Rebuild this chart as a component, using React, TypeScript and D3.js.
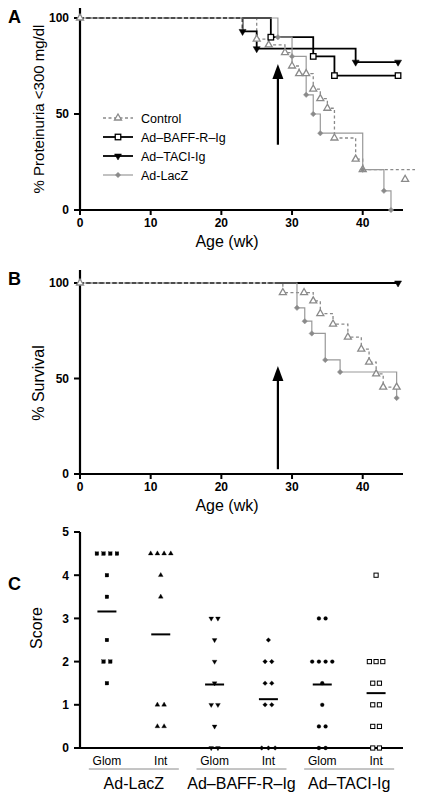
import React from 'react';
import * as d3 from 'd3';

type Pt = [number, number];

// ---------- shared ticks ----------
const weekTicks = [0, 10, 20, 30, 40];
const pctTicks = [0, 50, 100];
const scoreTicks = [0, 1, 2, 3, 4, 5];
const treatmentWeek = 28;

// ---------- Panel A: % proteinuria <300 mg/dl ----------
const ctrlA: Pt[] = [[0, 100], [25, 89], [26.7, 86], [29, 82], [30, 75], [31, 71], [32, 71], [33, 63], [34, 58], [35, 53], [36, 37.5], [39, 26.5], [40, 21], [47.4, 21]];
const ctrlAMarks: Pt[] = [[0, 100], [25, 89], [26.7, 86], [29, 82], [30, 75], [31, 71], [32, 71], [33, 63], [34, 58], [35, 53], [36, 37.5], [39, 26.5], [40, 21], [46, 16]];
const baffA: Pt[] = [[0, 100], [27, 90], [33, 80], [36, 70], [45, 70]];
const taciA: Pt[] = [[0, 100], [23, 93], [25, 84], [39, 77], [45, 77]];
const laczA: Pt[] = [[0, 100], [28, 90], [30, 80], [32, 60], [33, 50], [34, 40], [40, 21], [43, 10], [44, 0]];
const arrowA: Pt = [34, 76];

// ---------- Panel B: % survival ----------
const ctrlB: Pt[] = [[0, 100], [28.7, 95], [31.7, 95], [33, 90.6], [34, 84], [35.8, 78.5], [37.9, 71.7], [39.8, 65.4], [40.9, 58.6], [41.9, 52.4], [42.9, 45.5], [44.8, 45.5]];
const baffB: Pt[] = [[0, 100], [45, 100]];
const taciB: Pt[] = [[0, 100], [45, 100]];
const taciBMarks: Pt[] = [[45, 100]];
const laczB: Pt[] = [[0, 100], [30.7, 87], [31.8, 80], [32.8, 73.6], [34.7, 59.7], [36.8, 53.4], [44.8, 39.8]];
const arrowB: Pt = [2.5, 56.5];

// ---------- Panel C: scores ----------
const cColumns = ['Glom', 'Int', 'Glom', 'Int', 'Glom', 'Int'];
const cGroups = ['Ad-LacZ', 'Ad–BAFF-R–Ig', 'Ad–TACI-Ig'];
const lacZGlom = [4.5, 4.5, 4.5, 4.5, 4, 3.5, 2.5, 2, 2, 1.5];
const lacZInt = [4.5, 4.5, 4.5, 4.5, 4, 3.5, 1, 1, 0.5, 0.5];
const baffGlom = [3, 3, 2.5, 2, 1.5, 1, 1, 0.5, 0, 0];
const baffInt = [2.5, 2, 2, 1.5, 1.5, 1, 1, 0, 0, 0];
const taciGlom = [3, 3, 2, 2, 2, 2, 1.5, 1, 0.5, 0.5, 0, 0];
const taciInt = [4, 2, 2, 2, 1.5, 1.5, 1, 1, 0.5, 0.5, 0, 0];
const cMeans = [3.16, 2.63, 1.47, 1.13, 1.47, 1.27];

const FONT = "'Liberation Sans', Arial, Helvetica, sans-serif";
const GRAY = '#8a8a8a';
const LGRAY = '#999999';

type MType = 'triUp' | 'triDown' | 'square' | 'diamond' | 'circle';

function Marker({ type, x, y, s, color, fill, sw = 1.2 }: { type: MType; x: number; y: number; s: number; color: string; fill: string; sw?: number }) {
  if (type === 'square') return <rect x={x - s / 2} y={y - s / 2} width={s} height={s} fill={fill} stroke={color} strokeWidth={sw} />;
  if (type === 'circle') return <circle cx={x} cy={y} r={s / 2} fill={fill} stroke={color} strokeWidth={sw} />;
  if (type === 'diamond') {
    const r = s / 2;
    return <polygon points={`${x},${y - r} ${x + r},${y} ${x},${y + r} ${x - r},${y}`} fill={fill} stroke={color} strokeWidth={sw} />;
  }
  const h = s * 0.866;
  if (type === 'triUp')
    return <polygon points={`${x},${y - (2 * h) / 3} ${x + s / 2},${y + h / 3} ${x - s / 2},${y + h / 3}`} fill={fill} stroke={color} strokeWidth={sw} strokeLinejoin="miter" />;
  return <polygon points={`${x},${y + (2 * h) / 3} ${x + s / 2},${y - h / 3} ${x - s / 2},${y - h / 3}`} fill={fill} stroke={color} strokeWidth={sw} />;
}

interface Series {
  steps: Pt[];
  marks: Pt[];
  color: string;
  width: number;
  dash?: string;
  marker: MType;
  mfill: string;
  msize: number;
  splitDash?: boolean;
}

const x = d3.scaleLinear().domain([0, 45.7]).range([80, 403]);
const stepLine = d3.line<Pt>().x((d) => x(d[0])).curve(d3.curveStepAfter);

function KMPanel({ id, y0, y100, axisTop, letter, ylabel, ylabelSize, ylabelY, series, cut, arrow, legend }: {
  id: string; y0: number; y100: number; axisTop: number; letter: string; ylabel: string; ylabelSize: number; ylabelY: number;
  series: Series[]; cut: number; arrow: Pt; legend?: boolean;
}) {
  const y = d3.scaleLinear().domain([0, 100]).range([y0, y100]);
  const line = stepLine.y((d) => y(d[1]));
  const cx = x(cut);
  const ax = x(treatmentWeek);
  const legendItems = [
    { label: 'Control', s: series[0] },
    { label: 'Ad–BAFF-R–Ig', s: series[1] },
    { label: 'Ad–TACI-Ig', s: series[2] },
    { label: 'Ad-LacZ', s: series[3] },
  ];
  return (
    <g>
      <defs>
        <clipPath id={`${id}-pre`}><rect x={0} y={0} width={cx} height={800} /></clipPath>
        <clipPath id={`${id}-post`}><rect x={cx} y={0} width={423 - cx} height={800} /></clipPath>
      </defs>
      <text x={8} y={axisTop + 15} fontFamily={FONT} fontWeight="bold" fontSize={18}>{letter}</text>
      {/* axes */}
      <line x1={80} x2={80} y1={axisTop} y2={y0} stroke="#000" strokeWidth={2.2} />
      <line x1={74} x2={403} y1={y0} y2={y0} stroke="#000" strokeWidth={2.2} />
      {pctTicks.map((t) => (
        <g key={t}>
          <line x1={74} x2={80} y1={y(t)} y2={y(t)} stroke="#000" strokeWidth={2} />
          <text x={69} y={y(t)} dy="0.36em" textAnchor="end" fontFamily={FONT} fontWeight="bold" fontSize={12}>{t}</text>
        </g>
      ))}
      {weekTicks.map((t) => (
        <g key={t}>
          <line x1={x(t)} x2={x(t)} y1={y0} y2={y0 + 5} stroke="#000" strokeWidth={2} />
          <text x={x(t)} y={y0 + 17} textAnchor="middle" fontFamily={FONT} fontWeight="bold" fontSize={12}>{t}</text>
        </g>
      ))}
      <text x={227} y={y0 + 37} textAnchor="middle" fontFamily={FONT} fontSize={16}>Age (wk)</text>
      <text transform={`translate(44,${ylabelY}) rotate(-90)`} textAnchor="middle" fontFamily={FONT} fontSize={ylabelSize}>{ylabel}</text>
      {/* arrow */}
      <line x1={ax} x2={ax} y1={y(arrow[0])} y2={y(arrow[1]) + 10} stroke="#000" strokeWidth={2.2} />
      <polygon points={`${ax},${y(arrow[1])} ${ax + 5.5},${y(arrow[1]) + 15} ${ax - 5.5},${y(arrow[1]) + 15}`} fill="#000" />
      {/* lines */}
      {series.map((s, i) =>
        s.splitDash ? (
          <g key={i}>
            <path d={line(s.steps) || ''} fill="none" stroke={s.color} strokeWidth={s.width} strokeDasharray="4,2.5" clipPath={`url(#${id}-pre)`} />
            <path d={line(s.steps) || ''} fill="none" stroke={s.color} strokeWidth={s.width} clipPath={`url(#${id}-post)`} />
          </g>
        ) : (
          <path key={i} d={line(s.steps) || ''} fill="none" stroke={s.color} strokeWidth={s.width} strokeDasharray={s.dash} />
        )
      )}
      {/* markers */}
      {series.map((s, i) => (
        <g key={i}>
          {s.marks.map((p, j) => (
            <Marker key={j} type={s.marker} x={x(p[0])} y={y(p[1])} s={s.msize} color={s.mfill === '#fff' ? s.color : s.color} fill={s.mfill} sw={s.mfill === '#fff' ? 1.3 : 0.5} />
          ))}
        </g>
      ))}
      {legend &&
        legendItems.map((it, i) => {
          const ly = 118 + i * 19;
          return (
            <g key={i}>
              <line x1={103} x2={133} y1={ly} y2={ly} stroke={it.s.color} strokeWidth={it.s.width} strokeDasharray={it.s.dash} />
              <Marker type={it.s.marker} x={118} y={ly} s={it.s.msize} color={it.s.color} fill={it.s.mfill} sw={it.s.mfill === '#fff' ? 1.3 : 0.5} />
              <text x={141} y={ly + 4.5} fontFamily={FONT} fontSize={12.5}>{it.label}</text>
            </g>
          );
        })}
    </g>
  );
}

function ScorePanel() {
  const y = d3.scaleLinear().domain([0, 5]).range([748, 532]);
  const band = d3.scaleBand<number>().domain(cColumns.map((_, i) => i)).range([80, 403]);
  const cols: { vals: number[]; type: MType; s: number; fill: string }[] = [
    { vals: lacZGlom, type: 'square', s: 3.6, fill: '#000' },
    { vals: lacZInt, type: 'triUp', s: 4.8, fill: '#000' },
    { vals: baffGlom, type: 'triDown', s: 4.8, fill: '#000' },
    { vals: baffInt, type: 'diamond', s: 4.6, fill: '#000' },
    { vals: taciGlom, type: 'circle', s: 3.8, fill: '#000' },
    { vals: taciInt, type: 'square', s: 4.2, fill: '#fff' },
  ];
  const sp = 6.7;
  return (
    <g>
      <text x={8} y={590} fontFamily={FONT} fontWeight="bold" fontSize={18}>C</text>
      <line x1={80} x2={80} y1={y(5)} y2={y(0)} stroke="#000" strokeWidth={2.2} />
      <line x1={74} x2={403} y1={y(0)} y2={y(0)} stroke="#000" strokeWidth={2.2} />
      {scoreTicks.map((t) => (
        <g key={t}>
          <line x1={74} x2={80} y1={y(t)} y2={y(t)} stroke="#000" strokeWidth={2} />
          <text x={69} y={y(t)} dy="0.36em" textAnchor="end" fontFamily={FONT} fontWeight="bold" fontSize={12}>{t}</text>
        </g>
      ))}
      <text transform={`translate(42,628) rotate(-90)`} textAnchor="middle" fontFamily={FONT} fontSize={16}>Score</text>
      {cols.map((c, i) => {
        const cx = (band(i) as number) + band.bandwidth() / 2;
        const groups = d3.group(c.vals, (v) => v);
        const pts: React.ReactNode[] = [];
        groups.forEach((arr, v) => {
          arr.forEach((_, k) => {
            const px = cx + (k - (arr.length - 1) / 2) * sp;
            pts.push(<Marker key={`${v}-${k}`} type={c.type} x={px} y={y(v)} s={c.s} color="#000" fill={c.fill} sw={c.fill === '#fff' ? 1 : 0.3} />);
          });
        });
        return (
          <g key={i}>
            {pts}
            <line x1={cx - 9.5} x2={cx + 9.5} y1={y(cMeans[i])} y2={y(cMeans[i])} stroke="#000" strokeWidth={2} />
            <text x={cx} y={765} textAnchor="middle" fontFamily={FONT} fontSize={12}>{cColumns[i]}</text>
          </g>
        );
      })}
      {cGroups.map((g, i) => {
        const c = (band(i * 2) as number) + band.bandwidth();
        return (
          <g key={g}>
            <line x1={c - 45} x2={c + 45} y1={769} y2={769} stroke={GRAY} strokeWidth={1} />
            <text x={c} y={789} textAnchor="middle" fontFamily={FONT} fontSize={16}>{g}</text>
          </g>
        );
      })}
    </g>
  );
}

export default function App() {
  const ctrlStyle = { color: GRAY, width: 1.3, dash: '3,2.5', marker: 'triUp' as MType, mfill: '#fff', msize: 7 };
  const baffStyle = { color: '#000', width: 1.8, marker: 'square' as MType, mfill: '#fff', msize: 5.5, splitDash: true };
  const taciStyle = { color: '#000', width: 1.8, marker: 'triDown' as MType, mfill: '#000', msize: 7, splitDash: true };
  const laczStyle = { color: LGRAY, width: 1.2, marker: 'diamond' as MType, mfill: GRAY, msize: 5.5 };

  const seriesA: Series[] = [
    { ...ctrlStyle, steps: ctrlA, marks: ctrlAMarks },
    { ...baffStyle, steps: baffA, marks: baffA.slice(1) },
    { ...taciStyle, steps: taciA, marks: taciA.slice(1) },
    { ...laczStyle, steps: laczA, marks: laczA.slice(1) },
  ];
  const seriesB: Series[] = [
    { ...ctrlStyle, steps: ctrlB, marks: ctrlB },
    { ...baffStyle, steps: baffB, marks: [] },
    { ...taciStyle, steps: taciB, marks: taciBMarks },
    { ...laczStyle, steps: laczB, marks: laczB.slice(1) },
  ];
  const firstDropA = Math.min(baffA[1][0], taciA[1][0]);

  return (
    <svg width={423} height={800} style={{ position: 'absolute', left: 0, top: 0, background: '#fff' }}>
      <rect width={423} height={800} fill="#fff" />
      <KMPanel id="A" y0={210} y100={18} axisTop={8} letter="A" ylabel="% Proteinuria <300 mg/dl" ylabelSize={15} ylabelY={109}
        series={seriesA} cut={firstDropA} arrow={arrowA} legend />
      <KMPanel id="B" y0={474} y100={283} axisTop={270} letter="B" ylabel="% Survival" ylabelSize={16} ylabelY={383}
        series={seriesB} cut={treatmentWeek} arrow={arrowB} />
      <ScorePanel />
    </svg>
  );
}
